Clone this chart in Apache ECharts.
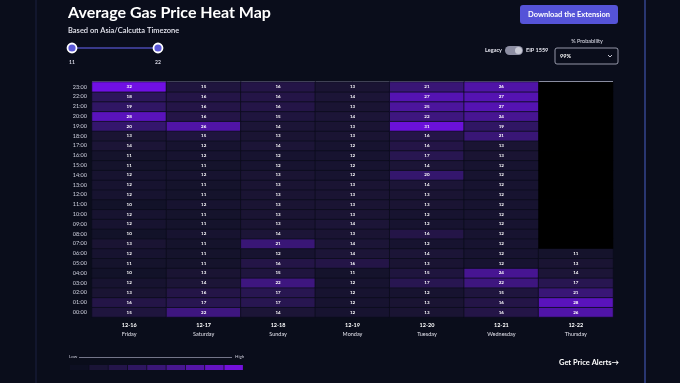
<!DOCTYPE html>
<html>
<head>
<meta charset="utf-8">
<script src="https://cdn.jsdelivr.net/npm/echarts@6/dist/echarts.min.js"></script>
<style>
html,body{margin:0;padding:0;background:#0a0d1b;}
#c{width:680px;height:383px;}
</style>
</head>
<body>
<div id="c"></div>
<script>
// ---- data ----
const hours = ['00:00','01:00','02:00','03:00','04:00','05:00','06:00','07:00','08:00','09:00','10:00','11:00',
               '12:00','13:00','14:00','15:00','16:00','17:00','18:00','19:00','20:00','21:00','22:00','23:00'];
const dates = ['12-16','12-17','12-18','12-19','12-20','12-21','12-22'];
const weekdays = ['Friday','Saturday','Sunday','Monday','Tuesday','Wednesday','Thursday'];
// values per day, 00:00 .. 23:00
const friday    = [15,16,13,12,10,11,12,13,10,12,12,10,12,12,12,11,11,14,13,20,28,19,18,32];
const saturday  = [22,17,16,14,13,11,11,11,12,11,11,12,11,11,12,11,12,12,15,26,16,16,16,15];
const sunday    = [14,17,17,22,15,16,12,21,14,13,13,13,13,13,13,12,12,14,13,14,15,16,16,16];
const monday    = [12,12,12,12,11,16,14,14,13,14,13,13,13,13,12,12,12,12,13,13,14,13,14,13];
const tuesday   = [13,13,12,17,15,13,14,12,16,12,12,13,13,14,20,14,17,16,16,31,22,25,27,21];
const wednesday = [16,16,15,22,24,12,12,12,12,12,12,12,12,12,12,12,13,13,21,19,24,27,27,26];
const thursday  = [26,28,21,17,14,13,11,null,null,null,null,null,null,null,null,null,null,null,null,null,null,null,null,null];
const sliderRange = [11, 22];
const probability = '99%';

const columns = [friday, saturday, sunday, monday, tuesday, wednesday, thursday];
const heatData = [];
const emptyData = [];
columns.forEach((col, x) => col.forEach((v, y) => {
  if (v === null) emptyData.push([x, y, 0]); else heatData.push([x, y, v]);
}));

const legendColors = ['#0d0f22','#1a1436','#24154a','#2e1660','#3a1677','#47168f','#5515a8','#6413c2','#7410dc'];

const chart = echarts.init(document.getElementById('c'), null, {renderer: 'canvas'});
const FONT = 'Lato, "Open Sans", sans-serif';

const graphics = [
  // frame lines
  {type:'line', shape:{x1:36,y1:0,x2:36,y2:383}, style:{stroke:'#1a2140', lineWidth:1}},
  {type:'line', shape:{x1:645,y1:0,x2:645,y2:383}, style:{stroke:'#34448f', lineWidth:1.5}},
  // title
  {type:'text', left:68, top:5, style:{text:'Average Gas Price Heat Map', fill:'#ffffff', font:'bold 16px ' + FONT}},
  {type:'text', left:68, top:27, style:{text:'Based on Asia/Calcutta Timezone', fill:'#e6e6f0', font:'600 7.5px ' + FONT}},
  // slider
  {type:'line', shape:{x1:72,y1:48,x2:158,y2:48}, style:{stroke:'#4a48b0', lineWidth:1.5}},
  {type:'circle', shape:{cx:72,cy:48,r:4.5}, style:{fill:'#5b58d8', stroke:'#ffffff', lineWidth:1.8}},
  {type:'circle', shape:{cx:158,cy:48,r:4.5}, style:{fill:'#5b58d8', stroke:'#ffffff', lineWidth:1.8}},
  {type:'text', x:72, y:62, style:{text:String(sliderRange[0]), fill:'#d8d8e6', font:'bold 5px ' + FONT, align:'center', verticalAlign:'middle'}},
  {type:'text', x:158, y:62, style:{text:String(sliderRange[1]), fill:'#d8d8e6', font:'bold 5px ' + FONT, align:'center', verticalAlign:'middle'}},
  // download button
  {type:'rect', shape:{x:520,y:5,width:98,height:19,r:3}, style:{fill:'#5553d8'}},
  {type:'text', x:569, y:14.5, style:{text:'Download the Extension', fill:'#ffffff', font:'bold 7.5px ' + FONT, align:'center', verticalAlign:'middle'}},
  // toggle
  {type:'text', x:502, y:50.5, style:{text:'Legacy', fill:'#e6e6f0', font:'bold 5.5px ' + FONT, align:'right', verticalAlign:'middle'}},
  {type:'rect', shape:{x:505,y:46,width:18,height:9,r:4.5}, style:{fill:'#8d8ea3'}},
  {type:'circle', shape:{cx:518.5,cy:50.5,r:3.5}, style:{fill:'#c9cad6'}},
  {type:'text', x:526, y:50.5, style:{text:'EIP 1559', fill:'#e6e6f0', font:'bold 5.5px ' + FONT, align:'left', verticalAlign:'middle'}},
  // probability dropdown
  {type:'text', x:587, y:41.5, style:{text:'% Probability', fill:'#e0e0ec', font:'5.5px ' + FONT, align:'center', verticalAlign:'middle'}},
  {type:'rect', shape:{x:555,y:48,width:63,height:16,r:2}, style:{fill:'#0a0d1b', stroke:'#b8bacb', lineWidth:0.8}},
  {type:'text', x:560, y:56.5, style:{text:probability, fill:'#ffffff', font:'bold 5.5px ' + FONT, align:'left', verticalAlign:'middle'}},
  {type:'polyline', shape:{points:[[608,55],[610,57],[612,55]]}, style:{stroke:'#e0e0ec', lineWidth:0.9, fill:null}},
  // top separator of heatmap
  {type:'line', shape:{x1:92,y1:81.5,x2:613,y2:81.5}, style:{stroke:'#b9bdd6', lineWidth:1}},
  // legend
  {type:'text', x:69, y:357, style:{text:'Low', fill:'#c8c8d6', font:'4.5px ' + FONT, align:'left', verticalAlign:'middle'}},
  {type:'line', shape:{x1:79,y1:357.5,x2:232,y2:357.5}, style:{stroke:'#8f91a6', lineWidth:0.8}},
  {type:'text', x:235, y:357, style:{text:'High', fill:'#c8c8d6', font:'4.5px ' + FONT, align:'left', verticalAlign:'middle'}},
  // get price alerts
  {type:'text', x:559, y:363, style:{text:'Get Price Alerts\u2192', fill:'#ffffff', font:'bold 7.5px ' + FONT, align:'left', verticalAlign:'middle'}}
];
legendColors.forEach((c, i) => {
  graphics.push({type:'rect', shape:{x:70 + i*19.3, y:365, width:18.5, height:5}, style:{fill:c}});
});

chart.setOption({
  backgroundColor: '#0a0d1b',
  animation: false,
  textStyle: {fontFamily: FONT},
  grid: {left: 92, right: 67, top: 82, bottom: 66},
  xAxis: {
    type: 'category',
    data: dates.map((d, i) => d + '\n' + weekdays[i]),
    axisLine: {show: false},
    axisTick: {show: false},
    splitArea: {show: false},
    axisLabel: {
      margin: 4,
      interval: 0,
      formatter: v => { const p = v.split('\n'); return '{a|' + p[0] + '}\n{b|' + p[1] + '}'; },
      rich: {
        a: {color: '#ffffff', fontSize: 5.5, fontWeight: 'bold', lineHeight: 9, fontFamily: FONT},
        b: {color: '#e0e0ea', fontSize: 5.5, lineHeight: 9, fontFamily: FONT}
      }
    }
  },
  yAxis: {
    type: 'category',
    data: hours,
    axisLine: {show: false},
    axisTick: {show: false},
    axisLabel: {color: '#d0d2e0', fontSize: 5.5, margin: 5, interval: 0, fontFamily: FONT}
  },
  visualMap: {
    show: false,
    seriesIndex: 0,
    min: 10,
    max: 32,
    inRange: {color: ['#121229', '#1d1538', '#2f1662', '#43168a', '#5813b8', '#7010e4']}
  },
  graphic: graphics,
  series: [
    {
      type: 'heatmap',
      data: heatData,
      itemStyle: {borderColor: '#0b0d1c', borderWidth: 0.8},
      label: {show: true, color: '#ffffff', fontSize: 4.5, fontWeight: 'bold', fontFamily: FONT},
      emphasis: {disabled: true}
    },
    {
      type: 'heatmap',
      data: emptyData,
      itemStyle: {color: '#000000', borderWidth: 0},
      label: {show: false},
      emphasis: {disabled: true}
    }
  ]
});
</script>
</body>
</html>
